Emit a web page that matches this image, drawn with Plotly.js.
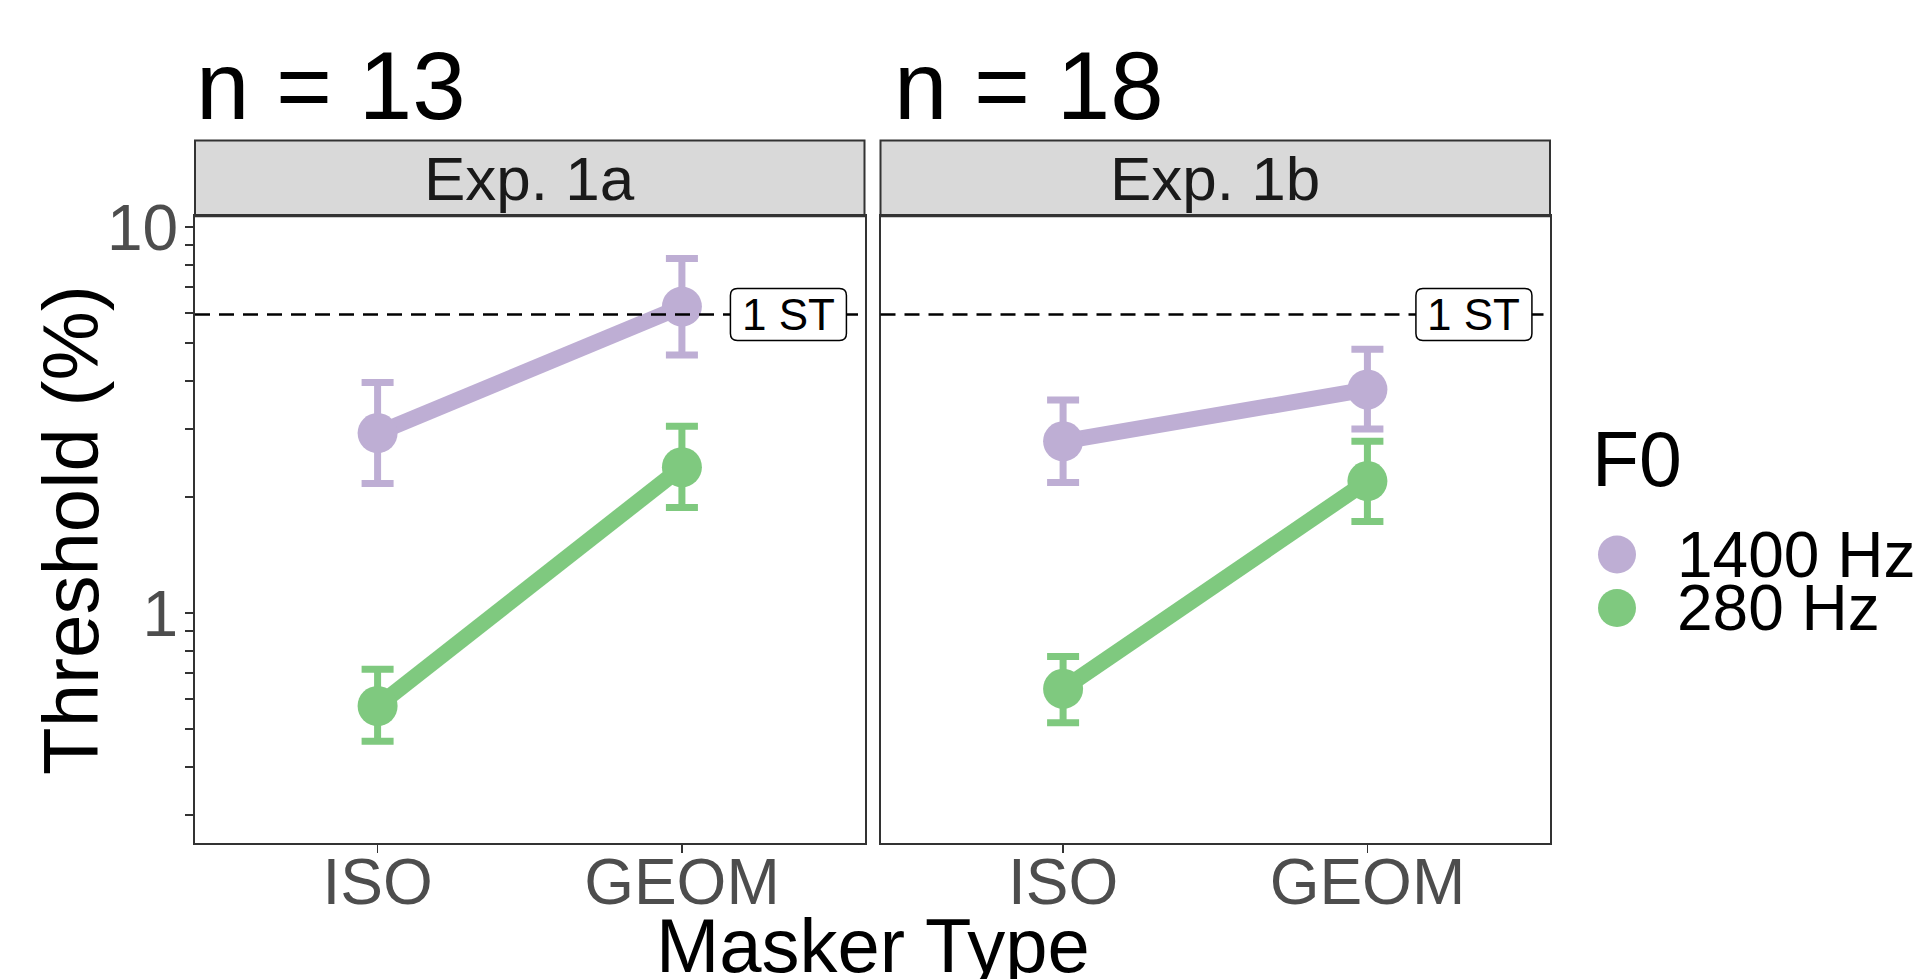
<!DOCTYPE html>
<html>
<head>
<meta charset="utf-8">
<script src="https://cdn.plot.ly/plotly-3.0.1.min.js"></script>
<style>
html,body{margin:0;padding:0;background:#fff;}
#chart{width:1926px;height:979px;}
</style>
</head>
<body>
<div id="chart"></div>
<script>
// ---- data ----
const maskerTypes = ['ISO', 'GEOM'];
const panels = ['Exp. 1a', 'Exp. 1b'];
const panelN = ['n = 13', 'n = 18'];
const f0Labels = ['1400 Hz', '280 Hz'];
const f0Colors = ['#BEAED4', '#7FC97F'];

// Exp. 1a
const exp1a_1400_mean = [2.93, 6.23];
const exp1a_1400_upper = [3.96, 8.30];
const exp1a_1400_lower = [2.17, 4.67];
const exp1a_280_mean = [0.575, 2.39];
const exp1a_280_upper = [0.716, 3.05];
const exp1a_280_lower = [0.466, 1.88];
// Exp. 1b
const exp1b_1400_mean = [2.79, 3.80];
const exp1b_1400_upper = [3.57, 4.83];
const exp1b_1400_lower = [2.18, 3.00];
const exp1b_280_mean = [0.637, 2.20];
const exp1b_280_upper = [0.773, 2.79];
const exp1b_280_lower = [0.520, 1.73];

const semitoneValue = 5.946; // 1 ST reference line (%)
const semitoneLabel = '1 ST';

const yTickVals = [0.3,0.4,0.5,0.6,0.7,0.8,0.9,1,2,3,4,5,6,7,8,9,10];
const yTickText = yTickVals.map(v => (v === 1 || v === 10) ? String(v) : '');

// ---- geometry helpers ----
const W = 1926, H = 979;
const px = x => x / W;
const py = y => 1 - y / H;

const FONT = 'Liberation Sans, Arial, Helvetica, sans-serif';

function mkTrace(mean, up, lo, color, name, xa, ya) {
  return {
    type: 'scatter', mode: 'lines+markers',
    x: maskerTypes, y: mean, name: name,
    xaxis: xa, yaxis: ya, showlegend: false,
    line: {color: color, width: 16},
    marker: {color: color, size: 40},
    error_y: {type: 'data', symmetric: false,
      array: up.map((u, i) => u - mean[i]),
      arrayminus: mean.map((m, i) => m - lo[i]),
      color: color, thickness: 7, width: 16}
  };
}

const data = [
  mkTrace(exp1a_1400_mean, exp1a_1400_upper, exp1a_1400_lower, f0Colors[0], f0Labels[0], 'x', 'y'),
  mkTrace(exp1a_280_mean, exp1a_280_upper, exp1a_280_lower, f0Colors[1], f0Labels[1], 'x', 'y'),
  mkTrace(exp1b_1400_mean, exp1b_1400_upper, exp1b_1400_lower, f0Colors[0], f0Labels[0], 'x2', 'y2'),
  mkTrace(exp1b_280_mean, exp1b_280_upper, exp1b_280_lower, f0Colors[1], f0Labels[1], 'x2', 'y2')
];

const panelX = [[195, 864.5], [880.5, 1550]];
const panelTop = 216.3, panelBot = 842.7, stripTop = 140.5;
const yDomain = [py(panelBot), py(panelTop)];
const yRange = [-0.5945, 1.0285];

function xAxis(dom) {
  return {
    domain: dom, type: 'category', categoryorder: 'array', categoryarray: maskerTypes,
    range: [-0.6, 1.6], showgrid: false, zeroline: false,
    showline: true, mirror: true, linecolor: '#333333', linewidth: 2,
    ticks: 'outside', ticklen: 8, tickwidth: 1.2, tickcolor: '#333333',
    ticklabelstandoff: -26,
    tickfont: {family: FONT, size: 64, color: '#4D4D4D'}
  };
}
function yAxis(anchor, showLabels) {
  return {
    domain: yDomain, anchor: anchor, type: 'log', range: yRange,
    showgrid: false, zeroline: false,
    showline: true, mirror: true, linecolor: '#333333', linewidth: 2,
    tickmode: 'array', tickvals: yTickVals, ticktext: yTickText,
    ticks: showLabels ? 'outside' : '', ticklen: 8, tickwidth: 2, tickcolor: '#333333',
    showticklabels: showLabels,
    ticklabelstandoff: -6,
    tickfont: {family: FONT, size: 64, color: '#4D4D4D'}
  };
}

const shapes = [];
const annotations = [];

// rounded label box path (pixel units, relative to anchor)
const bw = 58, bh = 26, br = 7;
const boxPath = `M ${-bw + br},${-bh} L ${bw - br},${-bh} Q ${bw},${-bh} ${bw},${-bh + br} ` +
  `L ${bw},${bh - br} Q ${bw},${bh} ${bw - br},${bh} L ${-bw + br},${bh} ` +
  `Q ${-bw},${bh} ${-bw},${bh - br} L ${-bw},${-bh + br} Q ${-bw},${-bh} ${-bw + br},${-bh} Z`;

panels.forEach((p, i) => {
  const [x0, x1] = panelX[i];
  // strip
  shapes.push({type: 'rect', xref: 'paper', yref: 'paper',
    x0: px(x0), x1: px(x1), y0: py(panelTop), y1: py(stripTop),
    fillcolor: '#D9D9D9', line: {color: '#333333', width: 2}, layer: 'below'});
  annotations.push({xref: 'paper', yref: 'paper', x: px((x0 + x1) / 2), y: py(179),
    text: p, showarrow: false, xanchor: 'center', yanchor: 'middle',
    font: {family: FONT, size: 62, color: '#1A1A1A'}});
  // dashed 1 ST line
  const xr = i === 0 ? 'x' : 'x2';
  const yr = i === 0 ? 'y' : 'y2';
  shapes.push({type: 'line', xref: xr + ' domain', yref: yr,
    x0: 0, x1: 1, y0: semitoneValue, y1: semitoneValue,
    line: {color: '#000000', width: 2.5, dash: '15px,9px'}});
  shapes.push({type: 'path', xref: xr, yref: yr, xsizemode: 'pixel', ysizemode: 'pixel',
    xanchor: 1.35, yanchor: semitoneValue, path: boxPath,
    fillcolor: '#FFFFFF', line: {color: '#000000', width: 1.5}});
  annotations.push({xref: xr, yref: yr, x: 1.35, y: Math.log10(semitoneValue),
    text: semitoneLabel, showarrow: false, xanchor: 'center', yanchor: 'middle',
    font: {family: FONT, size: 44, color: '#000000'}});
});

// n = titles
annotations.push({xref: 'paper', yref: 'paper', x: px(194), y: py(85), text: panelN[0],
  showarrow: false, xanchor: 'left', yanchor: 'middle',
  font: {family: FONT, size: 96, color: '#000000'}});
annotations.push({xref: 'paper', yref: 'paper', x: px(892), y: py(85), text: panelN[1],
  showarrow: false, xanchor: 'left', yanchor: 'middle',
  font: {family: FONT, size: 96, color: '#000000'}});

// axis titles
annotations.push({xref: 'paper', yref: 'paper', x: px(873), y: py(945), text: 'Masker Type',
  showarrow: false, xanchor: 'center', yanchor: 'middle',
  font: {family: FONT, size: 76, color: '#000000'}});
annotations.push({xref: 'paper', yref: 'paper', x: px(71), y: py(530), text: 'Threshold (%)',
  showarrow: false, xanchor: 'center', yanchor: 'middle', textangle: -90,
  font: {family: FONT, size: 78, color: '#000000'}});

// legend (manual)
annotations.push({xref: 'paper', yref: 'paper', x: px(1590), y: py(459), text: 'F0',
  showarrow: false, xanchor: 'left', yanchor: 'middle',
  font: {family: FONT, size: 77, color: '#000000'}});
const legY = [554.5, 608];
f0Labels.forEach((lab, i) => {
  shapes.push({type: 'circle', xref: 'paper', yref: 'paper',
    x0: px(1617 - 19), x1: px(1617 + 19), y0: py(legY[i] + 19), y1: py(legY[i] - 19),
    fillcolor: f0Colors[i], line: {width: 0}});
  annotations.push({xref: 'paper', yref: 'paper', x: px(1675), y: py(legY[i]), text: lab,
    showarrow: false, xanchor: 'left', yanchor: 'middle',
    font: {family: FONT, size: 64, color: '#000000'}});
});

const layout = {
  width: W, height: H,
  margin: {l: 0, r: 0, t: 0, b: 0, pad: 0},
  paper_bgcolor: '#FFFFFF', plot_bgcolor: '#FFFFFF',
  showlegend: false,
  xaxis: Object.assign(xAxis([px(panelX[0][0]), px(panelX[0][1])]), {anchor: 'y'}),
  xaxis2: Object.assign(xAxis([px(panelX[1][0]), px(panelX[1][1])]), {anchor: 'y2'}),
  yaxis: yAxis('x', true),
  yaxis2: yAxis('x2', false),
  shapes: shapes,
  annotations: annotations
};

Plotly.newPlot('chart', data, layout, {displayModeBar: false, staticPlot: true});
</script>
</body>
</html>
